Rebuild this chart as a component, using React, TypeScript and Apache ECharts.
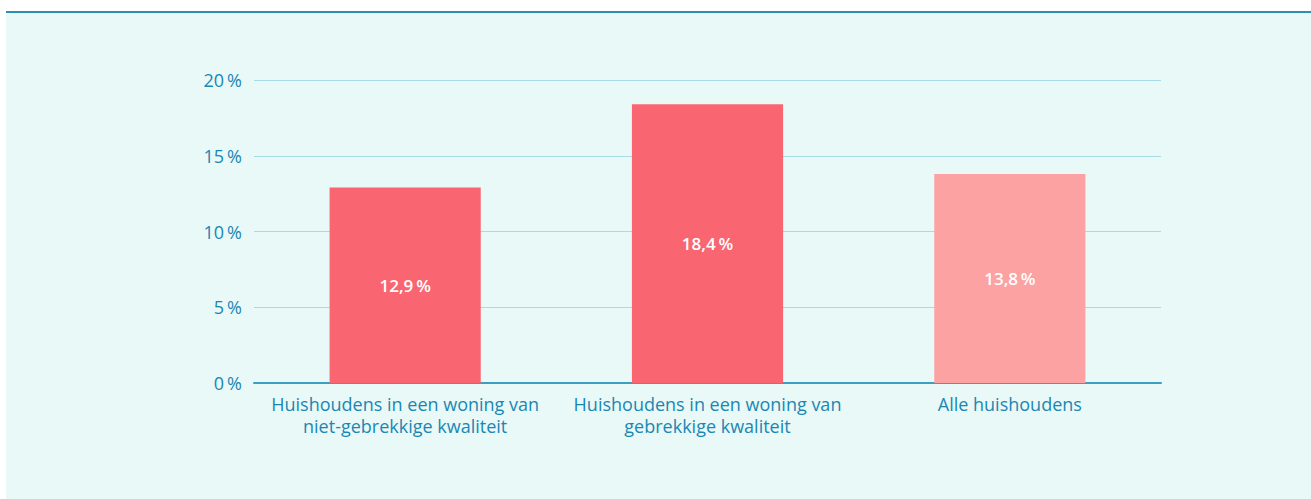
import React, { useEffect, useRef } from "react";
import * as echarts from "echarts";

const categories = [
  "Huishoudens in een woning van\nniet-gebrekkige kwaliteit",
  "Huishoudens in een woning van\ngebrekkige kwaliteit",
  "Alle huishoudens",
];
const values = [12.9, 18.4, 13.8];
const barColors = ["#f96672", "#f96672", "#fda2a3"];
const yTicks = [0, 5, 10, 15, 20];

export default function App() {
  const ref = useRef<HTMLDivElement>(null);
  useEffect(() => {
    if (!ref.current) return;
    const chart = echarts.init(ref.current, undefined, { renderer: "svg" });
    const fmt = (v: number) => v.toFixed(1).replace(".", ",") + "\u2009%";
    chart.setOption({
      animation: false,
      backgroundColor: "#ffffff",
      graphic: [
        {
          type: "rect",
          z: -10,
          shape: { x: 6, y: 12, width: 1305, height: 487 },
          style: { fill: "#e9f9f8" },
        },
        {
          type: "line",
          z: -9,
          shape: { x1: 6, y1: 12, x2: 1311, y2: 12 },
          style: { stroke: "#2f8fb2", lineWidth: 2 },
        },
      ],
      grid: { left: 254, right: 150, top: 80, bottom: 116 },
      xAxis: {
        type: "category",
        data: categories,
        axisTick: { show: false },
        axisLine: { lineStyle: { color: "#3a9fc2", width: 2 } },
        axisLabel: {
          color: "#1a87b3",
          fontFamily: "Open Sans",
          fontSize: 18,
          lineHeight: 22,
          margin: 10,
          interval: 0,
        },
      },
      yAxis: {
        type: "value",
        min: yTicks[0],
        max: yTicks[yTicks.length - 1],
        interval: 5,
        axisLine: { show: false },
        axisTick: { show: false },
        splitLine: { lineStyle: { color: "#a9dbe6", width: 1 } },
        axisLabel: {
          color: "#1a87b3",
          fontFamily: "Open Sans",
          fontSize: 18,
          margin: 12,
          formatter: (v: number) => v + "\u2009%",
        },
      },
      series: [
        {
          type: "bar",
          barWidth: "50%",
          data: values.map((v, i) => ({ value: v, itemStyle: { color: barColors[i] } })),
          label: {
            show: true,
            position: "inside",
            color: "#ffffff",
            fontFamily: "Open Sans",
            fontWeight: 600,
            fontSize: 17,
            formatter: (p: any) => fmt(p.value),
          },
        },
      ],
    });
    return () => chart.dispose();
  }, []);
  return (
    <div
      ref={ref}
      style={{ position: "absolute", left: 0, top: 0, width: 1311, height: 499 }}
    />
  );
}
